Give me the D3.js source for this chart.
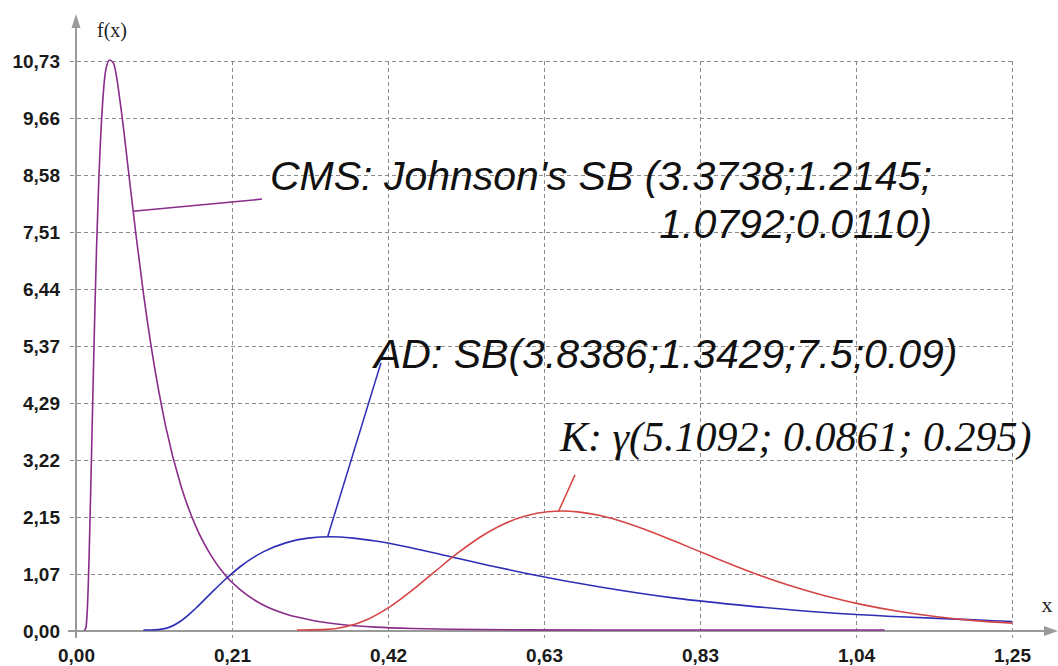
<!DOCTYPE html>
<html>
<head>
<meta charset="utf-8">
<script src="https://cdn.jsdelivr.net/npm/d3@7"></script>
<style>
  html, body { margin: 0; padding: 0; background: #fff; }
  svg { display: block; }
</style>
</head>
<body>
<svg id="chart" width="1058" height="666"></svg>
<script>
// Axis ticks (the x range 0..1.25 split in sixths, the y range 0..10.73 in tenths)
const xTickValues = [0, 0.2083, 0.4167, 0.625, 0.8333, 1.0417, 1.25];
const xTickLabels = ["0,00", "0,21", "0,42", "0,63", "0,83", "1,04", "1,25"];
const yTickValues = [0, 1.073, 2.146, 3.219, 4.292, 5.365, 6.438, 7.511, 8.584, 9.657, 10.73];
const yTickLabels = ["0,00", "1,07", "2,15", "3,22", "4,29", "5,37", "6,44", "7,51", "8,58", "9,66", "10,73"];

// CMS: Johnson's SB density
const cmsX = [0.011, 0.013, 0.015, 0.0175, 0.02, 0.0225, 0.025, 0.0275, 0.03, 0.035, 0.04, 0.045, 0.05, 0.06, 0.07, 0.08, 0.09, 0.10, 0.12, 0.14, 0.16, 0.18, 0.20, 0.22, 0.25, 0.28, 0.32, 0.36, 0.40, 0.45, 0.50, 0.60, 0.70, 1.08];
const cmsY = [0, 0.03, 0.35, 1.38, 2.84, 4.41, 5.91, 7.22, 8.29, 9.80, 10.56, 10.73, 10.67, 9.83, 8.65, 7.45, 6.34, 5.37, 3.82, 2.72, 1.95, 1.41, 1.02, 0.75, 0.47, 0.30, 0.17, 0.095, 0.054, 0.027, 0.013, 0.003, 0, 0];

// AD: SB density
const adX = [0.09, 0.10, 0.12, 0.14, 0.16, 0.18, 0.20, 0.22, 0.25, 0.28, 0.31, 0.34, 0.37, 0.40, 0.45, 0.50, 0.55, 0.60, 0.70, 0.80, 0.90, 1.00, 1.10, 1.20, 1.25];
const adY = [0, 0.0002, 0.031, 0.17, 0.41, 0.69, 0.96, 1.20, 1.47, 1.64, 1.73, 1.755, 1.73, 1.675, 1.54, 1.38, 1.22, 1.07, 0.81, 0.60, 0.45, 0.33, 0.25, 0.19, 0.16];

// K: gamma density
const kX = [0.295, 0.30, 0.33, 0.36, 0.39, 0.42, 0.45, 0.48, 0.51, 0.54, 0.57, 0.60, 0.63, 0.65, 0.67, 0.70, 0.73, 0.76, 0.80, 0.85, 0.90, 0.95, 1.00, 1.05, 1.10, 1.15, 1.20, 1.25];
const kY = [0, 0, 0.007, 0.061, 0.204, 0.444, 0.759, 1.108, 1.45, 1.751, 1.987, 2.146, 2.227, 2.24, 2.224, 2.154, 2.039, 1.893, 1.669, 1.377, 1.098, 0.851, 0.644, 0.478, 0.348, 0.249, 0.176, 0.13];

const seriesNames = ["cms", "ad", "k"];
const seriesColors = ["#8a2c8a", "#2e2eb6", "#d64545"];

// Labels with their leader lines, in data units
const labelTexts = [
  ["CMS: Johnson's SB (3.3738;1.2145;", "1.0792;0.0110)"],
  ["AD: SB(3.8386;1.3429;7.5;0.09)"],
  ["K: γ(5.1092; 0.0861; 0.295)"]
];
const leaderFrom = [[0.076, 7.9], [0.336, 1.77], [0.644, 2.24]];
const leaderTo = [[0.2484, 8.13], [0.4073, 5.05], [0.6664, 2.94]];

const svg = d3.select("#chart");
const x = d3.scaleLinear().domain([0, 1.25]).range([76, 1012]);
const y = d3.scaleLinear().domain([0, 10.73]).range([631, 61]);

const gridColor = "#8a8a8a";
const axisColor = "#9a9a9a";

// Dashed grid
const grid = svg.append("g").attr("stroke", gridColor).attr("stroke-width", 1)
  .attr("stroke-dasharray", "4,3").attr("fill", "none");
grid.selectAll("line.h").data(yTickValues.slice(1)).join("line")
  .attr("class", "h")
  .attr("x1", x(0) - 6).attr("x2", x(1.25))
  .attr("y1", d => Math.round(y(d)) + 0.5).attr("y2", d => Math.round(y(d)) + 0.5);
grid.selectAll("line.v").data(xTickValues.slice(1)).join("line")
  .attr("class", "v")
  .attr("x1", d => Math.round(x(d)) + 0.5).attr("x2", d => Math.round(x(d)) + 0.5)
  .attr("y1", y(10.73)).attr("y2", y(0) + 7);

// Axes with arrows
const axes = svg.append("g");
axes.append("line").attr("x1", x(0)).attr("x2", x(0)).attr("y1", y(0) + 7).attr("y2", 22)
  .attr("stroke", axisColor).attr("stroke-width", 2);
axes.append("path").attr("d", `M${x(0)},14 L${x(0) - 4.5},28 L${x(0) + 4.5},28 Z`).attr("fill", axisColor);
axes.append("line").attr("x1", x(0) - 8).attr("x2", 1050).attr("y1", y(0)).attr("y2", y(0))
  .attr("stroke", axisColor).attr("stroke-width", 2);
axes.append("path").attr("d", `M1058,${y(0)} L1044,${y(0) - 5} L1044,${y(0) + 5} Z`).attr("fill", axisColor);

// Tick labels through D3 axes
const yAxis = d3.axisLeft(y).tickValues(yTickValues)
  .tickFormat((d, i) => yTickLabels[i]).tickSize(0).tickPadding(16);
const yg = svg.append("g").attr("transform", `translate(${x(0)},0)`).call(yAxis);
const xAxis = d3.axisBottom(x).tickValues(xTickValues)
  .tickFormat((d, i) => xTickLabels[i]).tickSize(0).tickPadding(18);
const xg = svg.append("g").attr("transform", `translate(0,${y(0)})`).call(xAxis);
[yg, xg].forEach(g => {
  g.select(".domain").remove();
  g.selectAll("text").attr("fill", "#1a1a1a")
    .style("font-family", "'Liberation Sans', Arial, sans-serif")
    .style("font-weight", "bold").style("font-size", "19px");
});

// Axis titles
svg.append("text").attr("x", 97).attr("y", 37).text("f(x)")
  .style("font-family", "'Liberation Serif', 'Times New Roman', serif").style("font-size", "20px").attr("fill", "#222");
svg.append("text").attr("x", 1047).attr("y", 612).attr("text-anchor", "middle").text("x")
  .style("font-family", "'Liberation Serif', 'Times New Roman', serif").style("font-size", "22px").attr("fill", "#222");

// Density curves
const seriesData = [
  cmsX.map((v, i) => [v, cmsY[i]]),
  adX.map((v, i) => [v, adY[i]]),
  kX.map((v, i) => [v, kY[i]])
];
const line = d3.line().x(d => x(d[0])).y(d => y(d[1]) - 1).curve(d3.curveMonotoneX);
svg.append("g").attr("fill", "none")
  .selectAll("path").data(seriesData).join("path")
  .attr("class", (d, i) => seriesNames[i])
  .attr("d", line)
  .attr("stroke", (d, i) => seriesColors[i])
  .attr("stroke-width", 1.6)
  .attr("stroke-linejoin", "round");

// Leader lines
svg.append("g").selectAll("line").data(leaderFrom).join("line")
  .attr("x1", d => x(d[0])).attr("y1", d => y(d[1]))
  .attr("x2", (d, i) => x(leaderTo[i][0])).attr("y2", (d, i) => y(leaderTo[i][1]))
  .attr("stroke", (d, i) => seriesColors[i]).attr("stroke-width", 1.5);

// Annotation texts
const sans = "'Liberation Sans', Arial, sans-serif";
const serif = "'Liberation Serif', 'Times New Roman', serif";
const ann = svg.append("g").attr("fill", "#111").style("font-style", "italic");
ann.append("text").attr("x", x(0.2591)).attr("y", y(8.30)).text(labelTexts[0][0])
  .style("font-family", sans).style("font-size", "41px");
ann.append("text").attr("x", x(1.1432)).attr("y", y(7.40)).attr("text-anchor", "end").text(labelTexts[0][1])
  .style("font-family", sans).style("font-size", "41px");
ann.append("text").attr("x", x(0.398)).attr("y", y(4.95)).text(labelTexts[1][0])
  .style("font-family", sans).style("font-size", "41px");
ann.append("text").attr("x", x(0.6464)).attr("y", y(3.39)).text(labelTexts[2][0])
  .style("font-family", serif).style("font-size", "42px");
</script>
</body>
</html>
